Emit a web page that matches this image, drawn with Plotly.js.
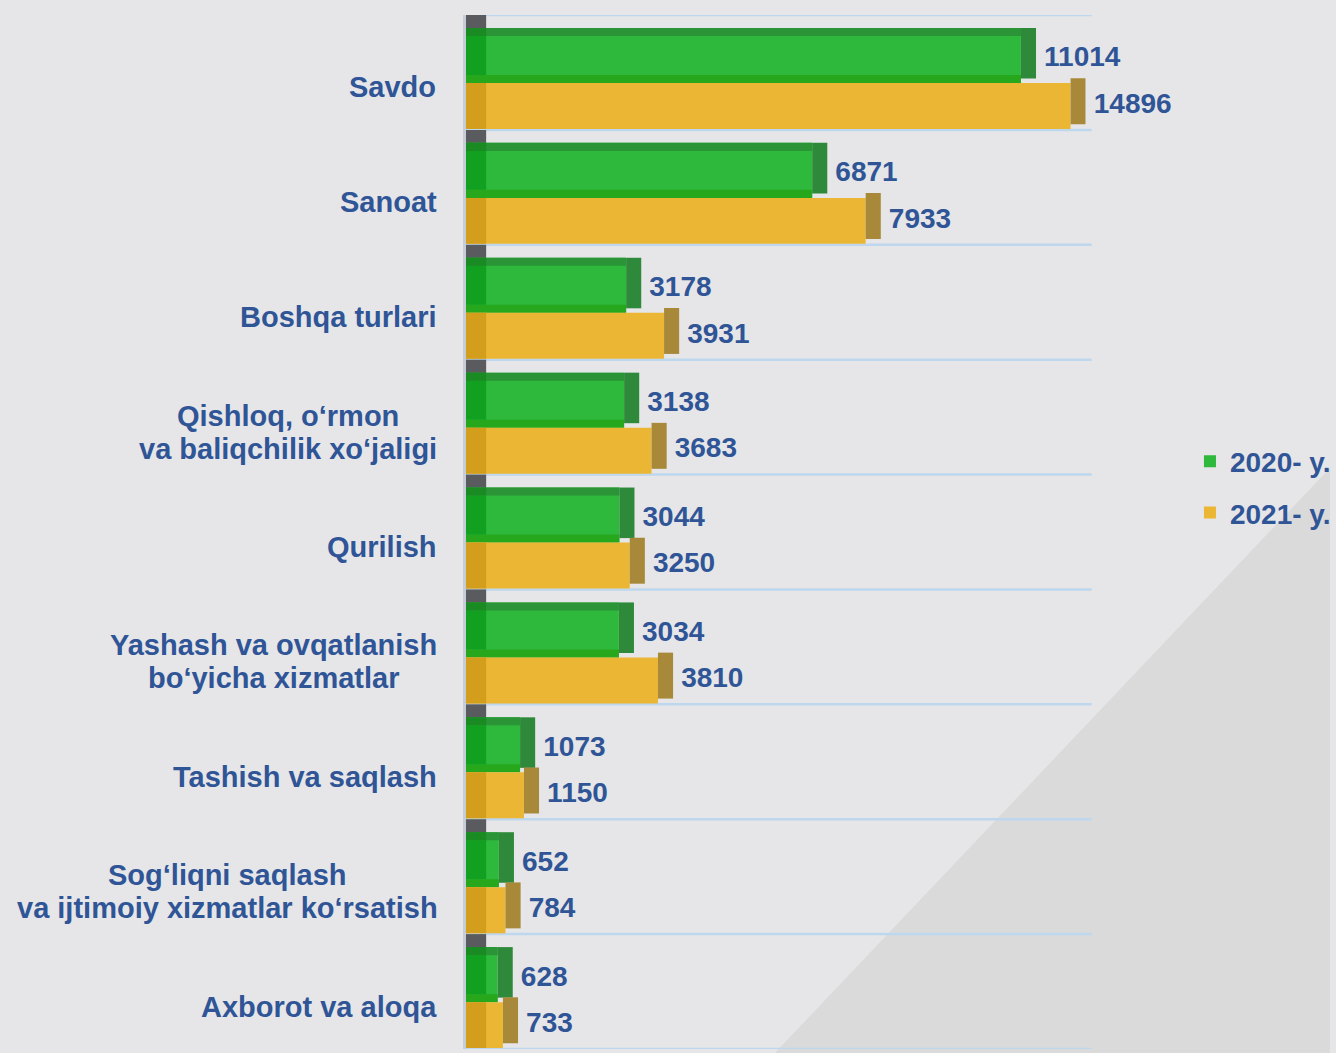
<!DOCTYPE html>
<html>
<head>
<meta charset="utf-8">
<script src="https://cdn.plot.ly/plotly-3.0.1.min.js"></script>
<style>html,body{margin:0;padding:0;background:#e6e6e8;}#chart{width:1336px;height:1053px;}</style>
</head>
<body>
<div id="chart"></div>
<script>
// ---- data ----
const categories = [
  "Savdo",
  "Sanoat",
  "Boshqa turlari",
  "Qishloq, o‘rmon<br>va baliqchilik xo‘jaligi",
  "Qurilish",
  "Yashash va ovqatlanish<br>bo‘yicha xizmatlar",
  "Tashish va saqlash",
  "Sog‘liqni saqlash<br>va ijtimoiy xizmatlar ko‘rsatish",
  "Axborot va aloqa"
];
const values2020 = [11014, 6871, 3178, 3138, 3044, 3034, 1073, 652, 628];
const values2021 = [14896, 7933, 3931, 3683, 3250, 3810, 1150, 784, 733];
const seriesNames = ["2020- y.", "2021- y."];

// ---- style ----
const XMAX = 12300;      // bar axis range end (the largest bar is cut off, as in the original)
const DEPTH = 300;       // 3D side depth in axis units
const STRIP = 400;       // left darker strip
const CAP = XMAX - DEPTH; // bars longer than the axis are drawn broken off at its end
const TEXT = "#2f5597";
const FONT = "Liberation Sans, Arial, sans-serif";

const L = 466, BR = 1090, W = 1336, H = 1053, T = 15, B = 1049;
const px = (x) => (x - L) / (W - L);
const py = (y) => 1 - (y - T) / (B - T);
const barFrac = px(BR);

const pos = categories.map((c, i) => i);
const n = categories.length;
const fill = (v) => categories.map(() => v);
const shown2020 = values2020.map(v => Math.min(v, CAP));
const shown2021 = values2021.map(v => Math.min(v, CAP));

function bar(x, opts) {
  return Object.assign({
    type: "bar", orientation: "h", y: pos, x: x, xaxis: "x", yaxis: "y",
    showlegend: false, hoverinfo: "skip", opacity: 1
  }, opts);
}
const mk = (c) => ({color: c, line: {width: 0}});

const traces = [
  bar(fill(STRIP), {offset: -0.5, width: 0.2, marker: mk("#5a5b5e")}),
  bar(shown2020, {name: seriesNames[0], showlegend: true, legendgroup: "a", offset: -0.387, width: 0.479, marker: mk("#2eb83c")}),
  bar(shown2020, {offset: -0.387, width: 0.07, marker: mk("#2a9436")}),
  bar(shown2020, {offset: 0.022, width: 0.07, marker: mk("#27a81c")}),
  bar(fill(STRIP), {offset: -0.317, width: 0.339, marker: mk("#12a020")}),
  bar(fill(STRIP), {offset: -0.387, width: 0.07, marker: mk("#1a8a22")}),
  bar(fill(DEPTH), {base: shown2020, offset: -0.387, width: 0.44, marker: mk("#2e8a3a")}),
  bar(shown2021, {name: seriesNames[1], showlegend: true, legendgroup: "b", offset: 0.092, width: 0.40, marker: mk("#ebb634")}),
  bar(fill(STRIP), {offset: 0.092, width: 0.40, marker: mk("#d39e1c")}),
  bar(fill(DEPTH), {base: shown2021, offset: 0.05, width: 0.40, marker: mk("#a8893a")}),
  {type: "scatter", mode: "text", xaxis: "x2", yaxis: "y",
    x: shown2020.map(v => v + DEPTH + 160),
    y: pos.map(p => p - 0.113), text: values2020.map(String), textposition: "middle right",
    textfont: {family: FONT, size: 28, color: TEXT, weight: 700}, cliponaxis: false,
    showlegend: false, hoverinfo: "skip"},
  {type: "scatter", mode: "text", xaxis: "x2", yaxis: "y",
    x: shown2021.map(v => v + DEPTH + 160),
    y: pos.map(p => p + 0.29), text: values2021.map(String), textposition: "middle right",
    textfont: {family: FONT, size: 28, color: TEXT, weight: 700}, cliponaxis: false,
    showlegend: false, hoverinfo: "skip"}
];

const shapes = [
  {type: "path", xref: "paper", yref: "paper", layer: "below",
   path: `M${px(777)},${py(1053)} L${px(1336)},${py(1053)} L${px(1336)},${py(468)} Z`,
   fillcolor: "#dadada", line: {width: 0}}
];
for (let i = 0; i <= n; i++) {
  shapes.push({type: "line", xref: "paper", yref: "y", layer: "below",
    x0: 0, x1: px(1096), y0: i - 0.5, y1: i - 0.5,
    line: {color: "#bdd7ee", width: 2.5}});
}

// category labels: lines centred on each other, block right-aligned to the axis
const LABEL_SIZE = 29, LINE_GAP = 33, LABEL_RIGHT = 436;
const ctx = document.createElement("canvas").getContext("2d");
ctx.font = `bold ${LABEL_SIZE}px "Liberation Sans", Arial, sans-serif`;
const annotations = [];
categories.forEach((c, i) => {
  const lines = c.split("<br>");
  const wmax = Math.max(...lines.map(s => ctx.measureText(s).width));
  const cx = LABEL_RIGHT - wmax / 2;
  lines.forEach((s, k) => {
    annotations.push({
      xref: "paper", yref: "y", x: px(cx), y: i, xanchor: "center", yanchor: "middle",
      yshift: -15 - (k - (lines.length - 1) / 2) * LINE_GAP,
      showarrow: false, text: s,
      font: {family: FONT, size: LABEL_SIZE, color: TEXT, weight: 700}
    });
  });
});

const layout = {
  width: W, height: H,
  margin: {l: L, r: 0, t: T, b: H - B, pad: 0},
  paper_bgcolor: "#e6e6e8", plot_bgcolor: "rgba(0,0,0,0)",
  barmode: "overlay",
  xaxis: {domain: [0, barFrac], range: [0, XMAX], visible: false, showgrid: false, zeroline: false, fixedrange: true},
  xaxis2: {domain: [0, 1], range: [0, XMAX / barFrac], anchor: "y", visible: false,
           showgrid: false, zeroline: false, fixedrange: true},
  yaxis: {range: [n - 0.5, -0.5], showticklabels: false, showgrid: false, zeroline: false,
          showline: true, linecolor: "#c5cdd9", linewidth: 3, ticks: "", fixedrange: true},
  showlegend: true,
  legend: {x: px(1195), y: py(487), xanchor: "left", yanchor: "middle",
           bgcolor: "rgba(0,0,0,0)", traceorder: "grouped", tracegroupgap: 12,
           itemwidth: 30, font: {family: FONT, size: 28, color: TEXT, weight: 700}},
  shapes: shapes,
  annotations: annotations
};

Plotly.newPlot("chart", traces, layout, {displayModeBar: false, staticPlot: true});
</script>
</body>
</html>
